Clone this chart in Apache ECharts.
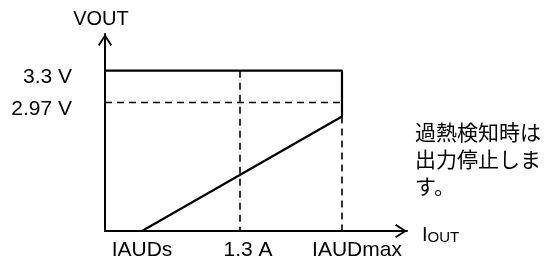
<!DOCTYPE html>
<html>
<head>
<meta charset="utf-8">
<script src="https://cdn.jsdelivr.net/npm/echarts@6/dist/echarts.min.js"></script>
<style>
html,body{margin:0;padding:0;background:#fff;}
#chart{width:545px;height:261px;}
</style>
</head>
<body>
<div id="chart"></div>
<script>
// ---- data (schematic units) ----
const xTickValues = [0.356, 1.3, 2.282];
const xTickLabels = ['IAUDs', '1.3 A', 'IAUDmax'];
const yTickValues = [3.3, 2.97];
const yTickLabels = ['3.3 V', '2.97 V'];
const xRange = [0, 2.908];
const yRange = [1.64, 3.68];
const outputCurve = [[0, 3.3], [2.282, 3.3], [2.282, 2.826], [0.356, 1.64]];
const dashedLevel = [[0, 2.97], [2.282, 2.97]];
const dashedAt13 = [[1.3, 3.3], [1.3, 1.64]];
const dashedAtMax = [[2.282, 2.826], [2.282, 1.64]];
const noteLines = ['過熱検知時は', '出力停止しま', 'す。'];
const xName = ['I', 'OUT'];
const yName = 'VOUT';

const FONT = '"Liberation Sans", Arial, sans-serif';
const arrowPath = 'path://M6.5,0 L13,10 L11.6,11 L6.5,3 L1.4,11 L0,10 Z';

const chart = echarts.init(document.getElementById('chart'), null, {renderer: 'canvas'});

const dashStyle = {color: '#000', width: 1.6, type: [7, 5]};
const mkLine = (data, style) => ({
  type: 'line', data: data, symbol: 'none', silent: true,
  lineStyle: style, animation: false
});

chart.setOption({
  animation: false,
  backgroundColor: '#fff',
  grid: {left: 105, top: 34, right: 138, bottom: 29, containLabel: false},
  xAxis: {
    type: 'value', min: xRange[0], max: xRange[1],
    splitLine: {show: false},
    axisTick: {show: false},
    axisLine: {
      show: true, onZero: false,
      lineStyle: {color: '#000', width: 2},
      symbol: ['none', arrowPath], symbolSize: [14, 12], symbolOffset: [0, -6]
    },
    axisLabel: {
      customValues: xTickValues,
      margin: 9,
      color: '#000', fontSize: 21, fontFamily: FONT,
      formatter: function (v) {
        const i = xTickValues.indexOf(v);
        return '{t' + i + '|' + xTickLabels[i] + '}';
      },
      rich: {
        t0: {fontSize: 21, fontFamily: FONT, color: '#000'},
        t1: {fontSize: 21, fontFamily: FONT, color: '#000', padding: [0, 0, 0, 16]},
        t2: {fontSize: 21, fontFamily: FONT, color: '#000', padding: [0, 0, 0, 30]}
      }
    },
    name: '{i|' + xName[0] + '}{o|' + xName[1] + '}',
    nameLocation: 'end', nameGap: 15,
    nameTextStyle: {
      padding: [8, 0, 0, 0],
      rich: {
        i: {fontSize: 20, fontFamily: FONT, color: '#000', verticalAlign: 'bottom', lineHeight: 20},
        o: {fontSize: 15, fontFamily: FONT, color: '#000', verticalAlign: 'bottom', lineHeight: 20}
      }
    }
  },
  yAxis: {
    type: 'value', min: yRange[0], max: yRange[1],
    splitLine: {show: false},
    axisTick: {show: false},
    axisLine: {
      show: true, onZero: false,
      lineStyle: {color: '#000', width: 2},
      symbol: ['none', arrowPath], symbolSize: [14, 12], symbolOffset: [0, -6]
    },
    axisLabel: {
      customValues: yTickValues,
      margin: 33,
      color: '#000', fontSize: 21, fontFamily: FONT,
      verticalAlign: 'top', lineHeight: 13,
      formatter: function (v) {
        return yTickLabels[yTickValues.indexOf(v)];
      }
    },
    name: yName, nameLocation: 'end', nameGap: 5,
    nameTextStyle: {color: '#000', fontSize: 20, fontFamily: FONT, padding: [0, 8, 0, 0]}
  },
  series: [
    mkLine(dashedLevel, dashStyle),
    mkLine(dashedAt13, dashStyle),
    mkLine(dashedAtMax, dashStyle),
    mkLine(outputCurve, {color: '#000', width: 2.2, type: 'solid'})
  ],
  graphic: [{
    type: 'text', left: 415, top: 119, silent: true,
    style: {
      text: noteLines.join('\n'),
      font: '21px "Noto Sans CJK JP"',
      lineHeight: 27,
      fill: '#000'
    }
  }]
});
</script>
</body>
</html>
